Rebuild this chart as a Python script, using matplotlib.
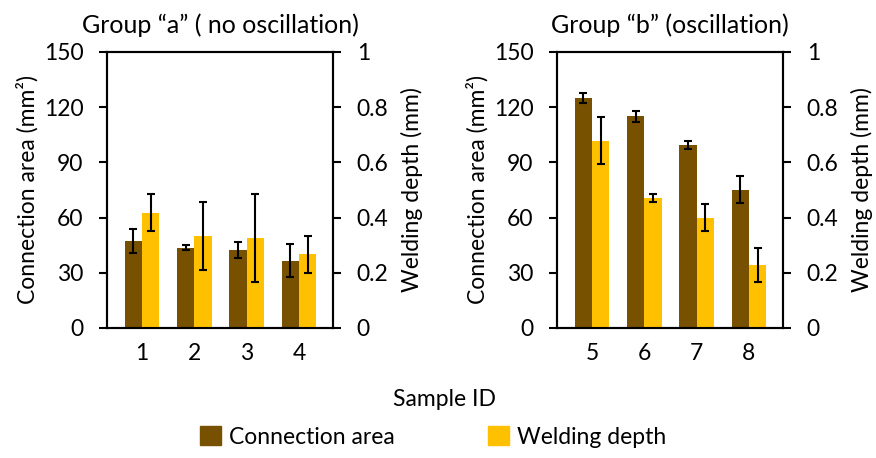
import numpy as np
import matplotlib.pyplot as plt

plt.rcParams['font.family'] = ['Lato', 'DejaVu Sans']

# samples per group
ids_a = ['1', '2', '3', '4']
ids_b = ['5', '6', '7', '8']

# connection area (mm^2) and std
area_a = [47.5, 43.6, 42.6, 36.6]
area_a_err = [6.5, 1.4, 4.3, 9.1]
area_b = [125.0, 115.0, 99.4, 75.1]
area_b_err = [2.6, 3.0, 2.1, 7.3]

# welding depth (mm) and std
depth_a = [0.417, 0.333, 0.326, 0.268]
depth_a_err = [0.067, 0.123, 0.160, 0.067]
depth_b = [0.679, 0.470, 0.400, 0.228]
depth_b_err = [0.085, 0.015, 0.050, 0.061]

titles = ['Group \u201ca\u201d ( no oscillation)', 'Group \u201cb\u201d (oscillation)']

brown = '#785100'
gold = '#FFC000'
fs = 16.5
w = 0.33

fig = plt.figure(figsize=(8.76, 4.58), dpi=100)
boxes = [[107/876, 130/458, 226/876, 276/458],
         [557/876, 130/458, 226/876, 276/458]]

groups = [(ids_a, area_a, area_a_err, depth_a, depth_a_err),
          (ids_b, area_b, area_b_err, depth_b, depth_b_err)]

ekw = dict(elinewidth=1.5, capthick=1.5, ecolor='black')

for box, title, (ids, area, aerr, depth, derr) in zip(boxes, titles, groups):
    ax = fig.add_axes(box)
    ax2 = ax.twinx()
    x = np.arange(len(ids))
    ax.bar(x - w/2, area, w, color=brown, yerr=aerr, capsize=3, error_kw=ekw)
    ax2.bar(x + w/2, depth, w, color=gold, yerr=derr, capsize=3, error_kw=ekw)
    ax.set_xlim(-0.67, 3.65)
    ax.set_ylim(0, 150)
    ax2.set_ylim(0, 1)
    ax.set_yticks([0, 30, 60, 90, 120, 150])
    ax2.set_yticks([0, 0.2, 0.4, 0.6, 0.8, 1])
    ax2.set_yticklabels(['0', '0.2', '0.4', '0.6', '0.8', '1'])
    ax.set_xticks(x)
    ax.set_xticklabels(ids)
    ax.tick_params(axis='y', direction='out', length=6, width=1.5, labelsize=fs, pad=11)
    ax.tick_params(axis='x', length=0, labelsize=fs, pad=11)
    ax2.tick_params(axis='y', direction='out', length=6, width=1.5, labelsize=fs, pad=11)
    for a in (ax, ax2):
        for s in a.spines.values():
            s.set_linewidth(1.5)
    ax.set_ylabel('Connection area (mm\u00b2)', fontsize=fs, labelpad=4)
    ax2.set_ylabel('Welding depth (mm)', fontsize=fs, labelpad=9)
    ax.set_title(title, fontsize=18, pad=14)

fig.text(445/876, 1 - 399/458, 'Sample ID', fontsize=fs, ha='center', va='center')

# legend below both panels
handles = [plt.Rectangle((0, 0), 1, 1, color=brown), plt.Rectangle((0, 0), 1, 1, color=gold)]
fig.legend(handles, ['Connection area', 'Welding depth'], loc='center',
           bbox_to_anchor=(433/876, 1 - 437/458), ncol=2, frameon=False,
           fontsize=fs, handlelength=0.9, handleheight=0.9, columnspacing=4.1,
           handletextpad=0.35)

fig.savefig('out.png', dpi=100)
